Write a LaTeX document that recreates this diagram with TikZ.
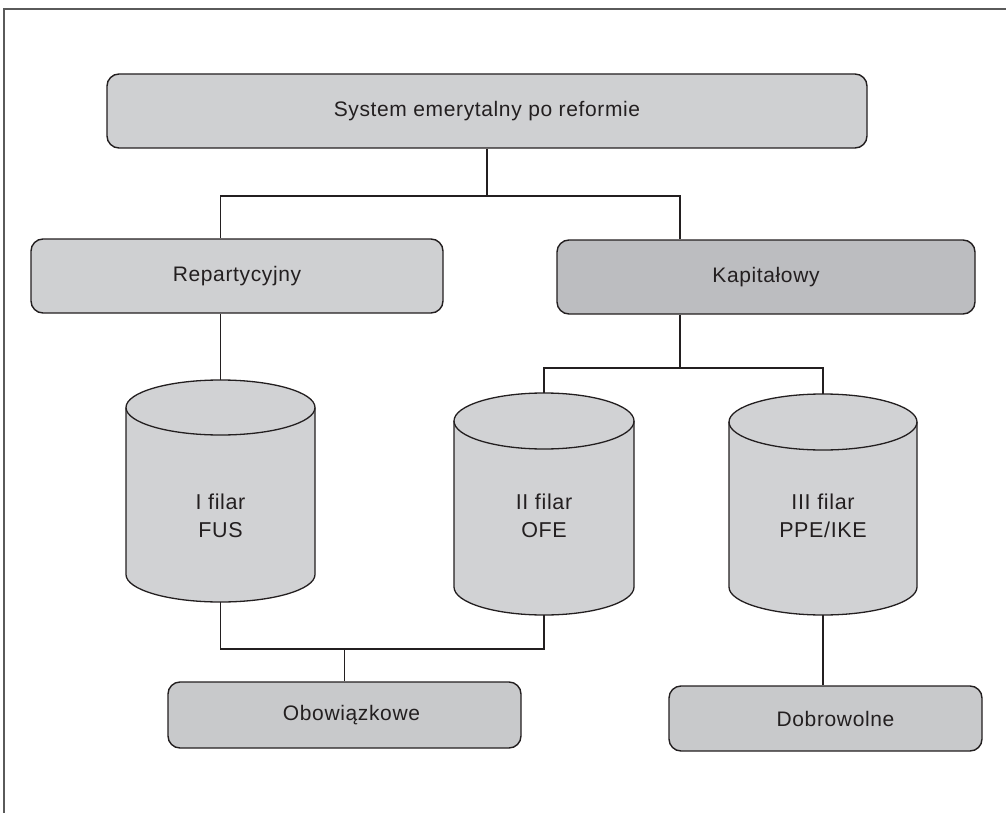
\documentclass[tikz,border=0pt]{standalone}
\usepackage{fontspec}
\setmainfont{Liberation Sans}[LetterSpace=3]
\usetikzlibrary{calc}

\definecolor{ink}{HTML}{231F20}
\definecolor{framegray}{HTML}{5A5A5A}
\definecolor{boxlight}{HTML}{CFD0D2}
\definecolor{boxdark}{HTML}{BCBDC0}
\definecolor{boxmid}{HTML}{C8C9CB}
\definecolor{cylgray}{HTML}{D1D2D4}

% cylinder outline around a named (invisible) node: #1 name, #2 x radius, #3 y radius of the rims
\newcommand\drawpillar[3]{%
  \filldraw[pillar] ([yshift=-#3pt]#1.north west) -- ([yshift=#3pt]#1.south west)
    arc[start angle=180, end angle=360, x radius=#2pt, y radius=#3pt]
    -- ([yshift=-#3pt]#1.north east)
    arc[start angle=0, end angle=180, x radius=#2pt, y radius=#3pt] -- cycle;
  \draw[pillar, fill=none] ([yshift=-#3pt]#1.north west)
    arc[start angle=180, end angle=360, x radius=#2pt, y radius=#3pt];
}

\begin{document}
\begin{tikzpicture}[x=1pt, y=-1pt,
  box/.style={draw=ink, line width=1.4pt, rounded corners=12pt, fill=boxlight,
    text=ink, font=\fontsize{21}{25}\selectfont, inner sep=0pt},
  pillarnode/.style={inner sep=0pt, outer sep=0pt},
  pillar/.style={draw=ink, line width=1.3pt, fill=cylgray},
  pillartext/.style={text=ink, align=center, font=\fontsize{21.5}{28}\selectfont},
  wire/.style={draw=ink, line width=1.3pt}]

\useasboundingbox (0,0) rectangle (1006,813);

% outer frame (top and left edges)
\draw[framegray, line width=2pt] (1006,9) -- (4,9) -- (4,813);

% boxes
\node[box, minimum width=760pt, minimum height=74pt] (top) at (487,111) {System emerytalny po reformie};
\node[box, minimum width=412pt, minimum height=74pt] (rep) at (237,276) {Repartycyjny};
\node[box, fill=boxdark, minimum width=418pt, minimum height=74pt] (kap) at (766,277) {Kapitałowy};
\node[box, fill=boxmid, minimum width=353pt, minimum height=66pt] (obo) at (344.5,715) {\hspace*{14pt}Obowiązkowe};
\node[box, fill=boxmid, minimum width=313pt, minimum height=65pt] (dob) at (825.5,718.5) {\hspace*{20pt}Dobrowolne};

% pillars
\node[pillarnode, minimum width=189pt, minimum height=222pt] (c1) at (220.5,491) {};
\node[pillarnode, minimum width=180pt, minimum height=222pt] (c2) at (544,504) {};
\node[pillarnode, minimum width=188pt, minimum height=221pt] (c3) at (823,504.5) {};
\drawpillar{c1}{94.5}{27.5}
\drawpillar{c2}{90}{28}
\drawpillar{c3}{94}{28}
\node[pillartext] (t1) at (220.5,516) {I filar\\FUS};
\node[pillartext] (t2) at (544,516) {II filar\\OFE};
\node[pillartext] (t3) at (823,516) {III filar\\PPE/IKE};

% junction points
\coordinate (j1) at (487,196);
\coordinate (k1) at (680,368);
\coordinate (j2) at (344.5,649);

% connectors
\draw[wire] (top.south) -- (j1);
\draw[wire] (rep.north -| c1.north) |- (j1) -| (kap.north -| k1);
\draw[wire] (rep.south -| c1.north) -- (c1.north);
\draw[wire] (kap.south -| k1) -- (k1);
\draw[wire] (c2.north) |- (k1) -| (c3.north);
\draw[wire] (c1.south) |- (j2) -| (c2.south);
\draw[wire] (j2) -- (obo.north);
\draw[wire] (c3.south) -- (dob.north -| c3.south);
\end{tikzpicture}
\end{document}
